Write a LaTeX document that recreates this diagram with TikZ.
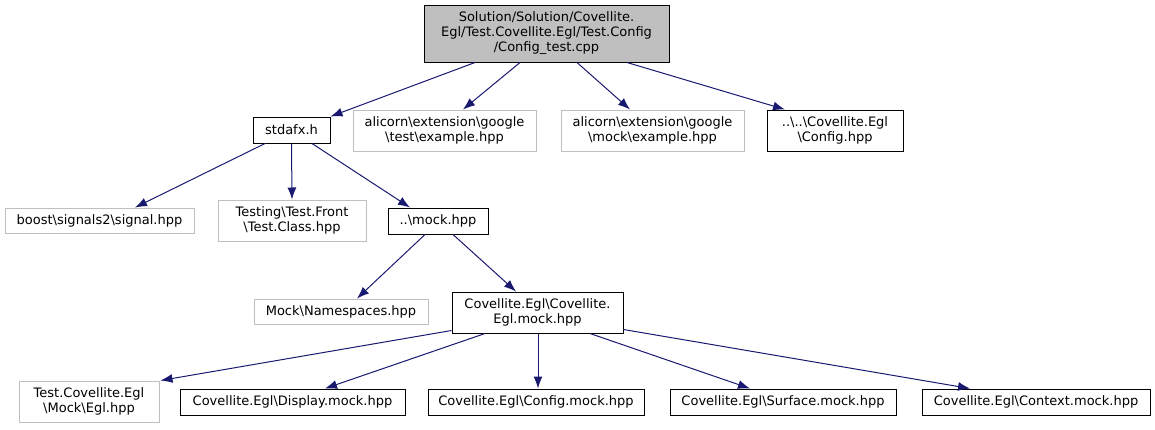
\documentclass[tikz,border=0pt]{standalone}
\usepackage{fontspec}
\setmainfont{DejaVu Sans}
\usetikzlibrary{arrows.meta}
\definecolor{docgray}{RGB}{191,191,191}
\definecolor{linkblue}{RGB}{25,25,112}

\begin{document}
\begin{tikzpicture}[x=1pt,y=-1pt,line width=1pt,font=\fontsize{13}{15}\selectfont,
  box/.style={draw=black,inner sep=0pt,align=center},
  ghost/.style={draw=docgray,inner sep=0pt,align=center},
  edge/.style={draw=linkblue,-{Latex[length=12pt,width=9pt]}}]
\useasboundingbox (0,0) rectangle (1155,429);
% top file
\node[box,fill=docgray,minimum width=245,minimum height=57] (root) at (546.5,33.5) {Solution/Solution/Covellite.\\Egl/Test.Covellite.Egl/Test.Config\\/Config\_test.cpp};
% first row
\node[box,minimum width=77,minimum height=26] (stdafx) at (291.5,130) {stdafx.h};
\node[ghost,minimum width=183,minimum height=41] (atest) at (444.5,130.5) {alicorn\textbackslash extension\textbackslash google\\\textbackslash test\textbackslash example.hpp};
\node[ghost,minimum width=183,minimum height=41] (amock) at (652.5,130.5) {alicorn\textbackslash extension\textbackslash google\\\textbackslash mock\textbackslash example.hpp};
\node[box,minimum width=136,minimum height=41] (cfghpp) at (835,130.5) {..\textbackslash..\textbackslash Covellite.Egl\\\textbackslash Config.hpp};
% second row
\node[ghost,minimum width=189,minimum height=25] (boost) at (99.5,220.5) {boost\textbackslash signals2\textbackslash signal.hpp};
\node[ghost,minimum width=148,minimum height=41] (testing) at (292,220.5) {Testing\textbackslash Test.Front\\\textbackslash Test.Class.hpp};
\node[box,minimum width=100,minimum height=26] (mockhpp) at (438,221) {..\textbackslash mock.hpp};
% third row
\node[ghost,minimum width=174,minimum height=25] (nspaces) at (341,311.5) {Mock\textbackslash Namespaces.hpp};
\node[box,minimum width=171,minimum height=41] (eglmock) at (537.5,312.5) {Covellite.Egl\textbackslash Covellite.\\Egl.mock.hpp};
% bottom row
\node[ghost,minimum width=140,minimum height=41] (tegl) at (89,401.5) {Test.Covellite.Egl\\\textbackslash Mock\textbackslash Egl.hpp};
\node[box,minimum width=225,minimum height=26] (display) at (292.5,402) {Covellite.Egl\textbackslash Display.mock.hpp};
\node[box,minimum width=216,minimum height=26] (cfgmock) at (536,402) {Covellite.Egl\textbackslash Config.mock.hpp};
\node[box,minimum width=226,minimum height=26] (surface) at (783,402) {Covellite.Egl\textbackslash Surface.mock.hpp};
\node[box,minimum width=228,minimum height=26] (context) at (1036,402) {Covellite.Egl\textbackslash Context.mock.hpp};
% includes
\draw[edge] ([xshift=-71.5pt]root.south) -- (stdafx.north east);
\draw[edge] ([xshift=-26.5pt]root.south) -- ([xshift=18.5pt]atest.north);
\draw[edge] ([xshift=30.5pt]root.south) -- ([xshift=-22.5pt]amock.north);
\draw[edge] ([xshift=80.5pt]root.south) -- ([xshift=-50pt]cfghpp.north);
\draw[edge] ([xshift=-26.5pt]stdafx.south) -- ([xshift=35.5pt]boost.north);
\draw[edge] (stdafx.south) -- (testing.north);
\draw[edge] ([xshift=20.5pt]stdafx.south) -- ([xshift=-28pt]mockhpp.north);
\draw[edge] ([xshift=-13pt]mockhpp.south) -- ([xshift=16pt]nspaces.north);
\draw[edge] ([xshift=15pt]mockhpp.south) -- ([xshift=-21.5pt]eglmock.north);
\draw[edge] ([yshift=3pt]eglmock.south west) -- ([xshift=1pt]tegl.north east);
\draw[edge] ([xshift=-52.5pt]eglmock.south) -- ([xshift=32.5pt]display.north);
\draw[edge] ([xshift=0.5pt]eglmock.south) -- ([xshift=2pt]cfgmock.north);
\draw[edge] ([xshift=52.5pt]eglmock.south) -- ([xshift=-33pt]surface.north);
\draw[edge] ([yshift=4pt]eglmock.south east) -- ([xshift=-66pt]context.north);
\end{tikzpicture}
\end{document}
